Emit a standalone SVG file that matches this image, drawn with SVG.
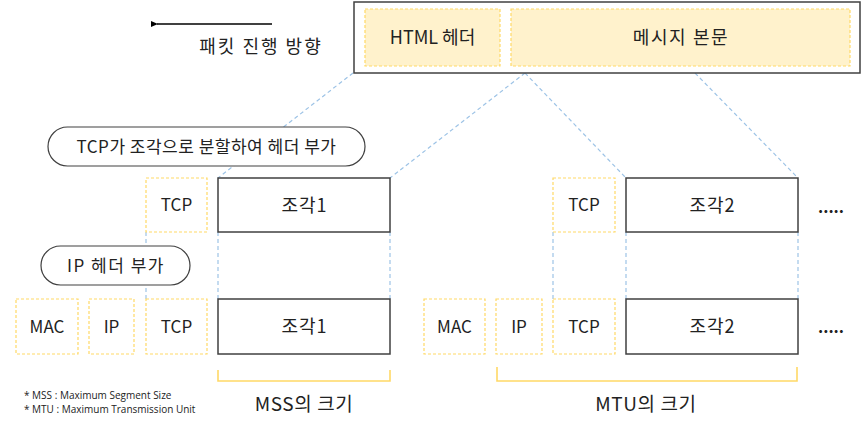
<svg xmlns="http://www.w3.org/2000/svg" width="867" height="421" viewBox="0 0 867 421">
<defs>
<style>
text{font-family:"Noto Sans CJK KR","Open Sans",sans-serif;fill:#222;text-anchor:middle}
.frame{fill:#fff;stroke:#404040;stroke-width:1.5}
.hdr{fill:#FFF2CC;stroke:#FFD966;stroke-width:1.2;stroke-dasharray:3 2}
.ybox{fill:#fff;stroke:#FFD966;stroke-width:1.2;stroke-dasharray:3 2}
.frag{fill:#fff;stroke:#404040;stroke-width:1.5}
.pill{fill:#fff;stroke:#404040;stroke-width:1.2}
.conn{fill:none;stroke:#9DC3E6;stroke-width:1.2;stroke-dasharray:4 3}
.brk{fill:none;stroke:#FFD966;stroke-width:1.6}
.lbl{font-size:17px}
.frg{font-size:18px;letter-spacing:1px}
.big{font-size:19px;letter-spacing:0.6px}
.note{font-family:"Open Sans","Noto Sans",sans-serif;font-size:10px;text-anchor:start}
</style>
<marker id="ah" markerWidth="8" markerHeight="8" refX="1" refY="4" orient="auto" markerUnits="userSpaceOnUse">
<path d="M7,1 L0,4 L7,7 Z" fill="#000"/>
</marker>
</defs>

<g id="connectors">
<line class="conn" x1="353" y1="73" x2="218" y2="178"/>
<line class="conn" x1="525" y1="73" x2="390" y2="178"/>
<line class="conn" x1="525" y1="73" x2="626" y2="178"/>
<line class="conn" x1="695" y1="73" x2="798" y2="178"/>
<line class="conn" x1="146" y1="232" x2="146" y2="299"/>
<line class="conn" x1="218" y1="232" x2="218" y2="299"/>
<line class="conn" x1="390" y1="232" x2="390" y2="299"/>
<line class="conn" x1="553" y1="232" x2="553" y2="299"/>
<line class="conn" x1="626" y1="232" x2="626" y2="299"/>
<line class="conn" x1="798" y1="232" x2="798" y2="299"/>
</g>

<g id="direction">
<line x1="272" y1="24" x2="157" y2="24" stroke="#000" stroke-width="1.5" marker-end="url(#ah)"/>
<text x="261" y="53" style="font-size:18px;letter-spacing:2px">패킷 진행 방향</text>
</g>

<g id="message">
<rect class="frame" x="354" y="2" width="506" height="71"/>
<rect class="hdr" x="365" y="9" width="135" height="57"/>
<text x="432.5" y="44" style="font-size:18px">HTML 헤더</text>
<rect class="hdr" x="511" y="9" width="339" height="57"/>
<text x="681" y="44" style="font-size:18px;letter-spacing:1.6px">메시지 본문</text>
</g>

<g id="pill-tcp">
<rect class="pill" x="48" y="127" width="317" height="39" rx="19.5"/>
<text x="206.5" y="153" style="font-size:17px;letter-spacing:0.5px">TCP가 조각으로 분할하여 헤더 부가</text>
</g>

<g id="row1-left">
<rect class="ybox" x="146" y="178" width="61" height="54"/>
<text class="lbl" x="176.5" y="211">TCP</text>
<rect class="frag" x="218" y="178" width="172" height="54"/>
<text class="frg" x="304.5" y="211.5">조각1</text>
</g>

<g id="row1-right">
<rect class="ybox" x="553" y="178" width="62" height="54"/>
<text class="lbl" x="584" y="211">TCP</text>
<rect class="frag" x="626" y="178" width="172" height="54"/>
<text class="frg" x="712.5" y="211.5">조각2</text>
<text style="font-size:16px;font-weight:bold" x="831" y="213">.....</text>
</g>

<g id="pill-ip">
<rect class="pill" x="41" y="246" width="149" height="39" rx="19.5"/>
<text x="116" y="272" style="font-size:17px;letter-spacing:1.5px">IP 헤더 부가</text>
</g>

<g id="row2-left">
<rect class="ybox" x="16" y="299" width="62" height="55"/>
<text class="lbl" x="47" y="333">MAC</text>
<rect class="ybox" x="89" y="299" width="45" height="55"/>
<text class="lbl" x="111.5" y="333">IP</text>
<rect class="ybox" x="146" y="299" width="61" height="55"/>
<text class="lbl" x="176.5" y="333">TCP</text>
<rect class="frag" x="218" y="299" width="172" height="55"/>
<text class="frg" x="304.5" y="333">조각1</text>
</g>

<g id="row2-right">
<rect class="ybox" x="424" y="299" width="61" height="55"/>
<text class="lbl" x="454.5" y="333">MAC</text>
<rect class="ybox" x="496" y="299" width="46" height="55"/>
<text class="lbl" x="519" y="333">IP</text>
<rect class="ybox" x="553" y="299" width="62" height="55"/>
<text class="lbl" x="584" y="333">TCP</text>
<rect class="frag" x="626" y="299" width="172" height="55"/>
<text class="frg" x="712.5" y="333">조각2</text>
<text style="font-size:16px;font-weight:bold" x="831" y="333">.....</text>
</g>

<g id="mss">
<path class="brk" d="M218,370 V381 H390 V370"/>
<text class="big" x="304" y="411">MSS의 크기</text>
</g>

<g id="mtu">
<path class="brk" d="M497,367 V381 H797 V367"/>
<text class="big" x="646" y="411">MTU의 크기</text>
</g>

<g id="notes">
<text class="note" x="24" y="399">* MSS : Maximum Segment Size</text>
<text class="note" x="24" y="412.5">* MTU : Maximum Transmission Unit</text>
</g>
</svg>
